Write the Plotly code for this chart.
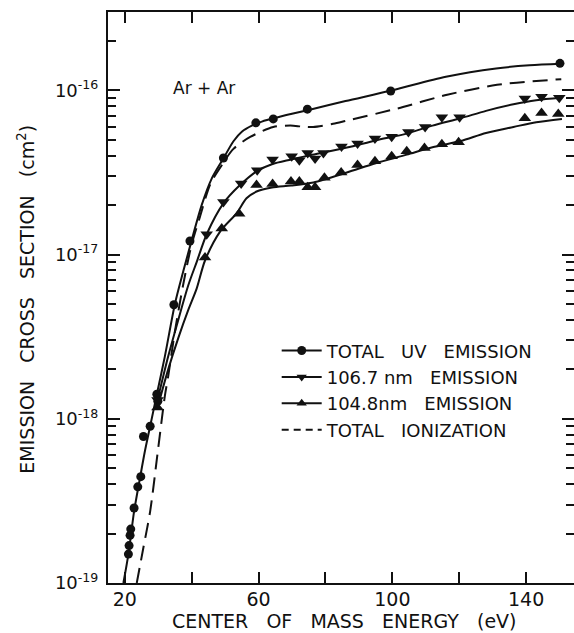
import plotly.graph_objects as go

# ---------------- data ----------------
# TOTAL UV EMISSION (circles)
uv_x = [21.1, 21.3, 21.6, 21.8, 22.8, 23.9, 24.8, 25.6, 27.6, 29.6, 29.9, 34.7,
        39.5, 49.5, 59.2, 64.4, 74.6, 99.5, 150.1]
uv_y = [1.5e-19, 1.69e-19, 1.95e-19, 2.13e-19, 2.86e-19, 3.85e-19, 4.44e-19,
        7.8e-19, 9.0e-19, 1.41e-18, 1.28e-18, 4.95e-18, 1.21e-17, 3.87e-17,
        6.34e-17, 6.7e-17, 7.68e-17, 9.9e-17, 1.46e-16]
uv_fit_x = [19.6, 21.1, 22.8, 24.6, 26.1, 27.6, 29.6, 32.0, 35.0, 37.5, 40.0,
            43.0, 46.0, 49.5, 52.5, 55.0, 58.0, 61.0, 65.0, 70.0, 75.0, 86.0,
            100.0, 116.0, 131.0, 141.0, 150.5]
uv_fit_y = [1.0e-19, 1.5e-19, 2.73e-19, 4.4e-19, 6.45e-19, 9.0e-19, 1.41e-18,
            2.4e-18, 5.0e-18, 7.9e-18, 1.22e-17, 2.0e-17, 2.9e-17, 3.85e-17,
            4.9e-17, 5.6e-17, 6.1e-17, 6.45e-17, 6.8e-17, 7.2e-17, 7.6e-17,
            8.6e-17, 1.0e-16, 1.21e-16, 1.36e-16, 1.42e-16, 1.45e-16]

# 106.7 nm EMISSION (down triangles)
d_x = [29.8, 44.5, 49.5, 54.8, 59.6, 64.2, 69.9, 72.2, 74.7, 76.9, 79.4, 84.8,
       89.6, 94.8, 99.8, 104.8, 109.8, 114.8, 120.1, 139.6, 144.6, 149.9]
d_y = [1.3e-18, 1.33e-17, 2.09e-17, 2.71e-17, 3.26e-17, 3.79e-17, 3.97e-17,
       3.75e-17, 4.15e-17, 3.84e-17, 4.15e-17, 4.55e-17, 4.75e-17, 5.09e-17,
       5.21e-17, 5.58e-17, 5.98e-17, 6.85e-17, 6.85e-17, 8.93e-17, 9.14e-17,
       9.0e-17]
d_fit_x = [29.8, 33.0, 36.0, 39.0, 41.5, 44.5, 49.5, 54.3, 59.6, 64.0, 69.7,
           76.0, 86.4, 95.0, 104.3, 112.0, 120.4, 128.0, 136.2, 143.0, 150.5]
d_fit_y = [1.3e-18, 2.4e-18, 4.0e-18, 6.5e-18, 9.0e-18, 1.33e-17, 2.05e-17,
           2.63e-17, 3.23e-17, 3.55e-17, 3.79e-17, 4.05e-17, 4.48e-17, 4.95e-17,
           5.45e-17, 6.1e-17, 6.76e-17, 7.5e-17, 8.22e-17, 8.7e-17, 9.0e-17]

# 104.8 nm EMISSION (up triangles)
u_x = [29.8, 44.0, 49.0, 54.2, 59.4, 64.2, 69.7, 72.2, 74.7, 76.9, 79.7, 84.7,
       89.6, 94.8, 99.8, 104.3, 109.6, 114.8, 119.8, 139.6, 144.6, 149.6]
u_y = [1.17e-18, 9.6e-18, 1.44e-17, 1.77e-17, 2.65e-17, 2.69e-17, 2.79e-17,
       2.79e-17, 2.57e-17, 2.57e-17, 2.94e-17, 3.16e-17, 3.51e-17, 3.7e-17,
       3.97e-17, 4.25e-17, 4.45e-17, 4.69e-17, 4.83e-17, 6.76e-17, 7.27e-17,
       7.17e-17]
u_fit_x = [29.8, 33.0, 36.0, 39.0, 41.5, 44.0, 48.6, 53.5, 56.4, 59.4, 64.0,
           69.7, 76.4, 86.4, 95.0, 104.3, 112.0, 120.4, 128.0, 136.2, 143.0,
           150.7]
u_fit_y = [1.17e-18, 2.0e-18, 3.1e-18, 4.6e-18, 6.2e-18, 9.2e-18, 1.39e-17,
           1.79e-17, 2.2e-17, 2.42e-17, 2.56e-17, 2.63e-17, 2.75e-17, 3.16e-17,
           3.6e-17, 4.06e-17, 4.5e-17, 4.91e-17, 5.5e-17, 5.98e-17, 6.4e-17,
           6.7e-17]

# TOTAL IONIZATION (dashed curve)
ion_x = [23.6, 25.6, 27.6, 30.0, 32.0, 33.0, 35.0, 37.5, 40.0, 42.5, 45.6,
         49.0, 52.5, 57.5, 64.4, 69.5, 73.0, 76.3, 82.3, 86.4, 101.5, 116.4,
         131.3, 150.5]
ion_y = [1.0e-19, 1.65e-19, 2.73e-19, 6.6e-19, 1.38e-18, 1.82e-18, 3.4e-18,
         6.6e-18, 1.15e-17, 1.7e-17, 2.69e-17, 3.5e-17, 4.4e-17, 5.2e-17,
         5.98e-17, 6.1e-17, 6.02e-17, 5.98e-17, 6.25e-17, 6.54e-17, 7.75e-17,
         9.4e-17, 1.08e-16, 1.17e-16]

x_tickvals = [20, 60, 100, 140]
x_ticktext = ["20", "60", "100", "140"]
x_minor = [40, 80, 120]
y_tickvals = [1e-19, 1e-18, 1e-17, 1e-16]
y_ticktext = ["10<sup>-19</sup>", "10<sup>-18</sup>", "10<sup>-17</sup>", "10<sup>-16</sup>"]
y_minor = [m * 10.0 ** k for k in range(-19, -15) for m in range(2, 10) if m * 10.0 ** k < 2.9e-16]

names = ["TOTAL   UV   EMISSION", "106.7 nm   EMISSION", "104.8nm   EMISSION", "TOTAL   IONIZATION"]

INK = "#111111"
FONT = "DejaVu Sans"

fig = go.Figure()
LW = 2

# fitted curves
for fx, fy, dash in [(uv_fit_x, uv_fit_y, "solid"), (d_fit_x, d_fit_y, "solid"),
                     (u_fit_x, u_fit_y, "solid"), (ion_x, ion_y, "15px,8px")]:
    fig.add_trace(go.Scatter(x=fx, y=fy, mode="lines", showlegend=False, hoverinfo="skip",
                             line=dict(color=INK, width=LW, dash=dash, shape="spline", smoothing=0.8)))

# data markers
fig.add_trace(go.Scatter(x=uv_x, y=uv_y, mode="markers", marker=dict(symbol="circle", size=9, color=INK), showlegend=False))
fig.add_trace(go.Scatter(x=d_x, y=d_y, mode="markers", marker=dict(symbol="triangle-down", size=11, color=INK), showlegend=False))
fig.add_trace(go.Scatter(x=u_x, y=u_y, mode="markers", marker=dict(symbol="triangle-up", size=11, color=INK), showlegend=False))

# legend entries
sym = ["circle", "triangle-down", "triangle-up", None]
for nm, s in zip(names, sym):
    if s:
        fig.add_trace(go.Scatter(x=[None], y=[None], mode="lines+markers", name=nm,
                                 line=dict(color=INK, width=LW), marker=dict(symbol=s, size=9, color=INK)))
    else:
        fig.add_trace(go.Scatter(x=[None], y=[None], mode="lines", name=nm, yaxis="y2",
                                 line=dict(color=INK, width=LW, dash="7px,5px")))

fig.add_annotation(x=0.205, y=0.867, xref="paper", yref="paper", text="Ar + Ar", showarrow=False,
                   font=dict(family=FONT, size=17, color=INK), xanchor="center", yanchor="middle")
# axis titles
fig.add_annotation(x=-0.175, y=0.497, xref="paper", yref="paper", textangle=-90,
                   text="EMISSION   CROSS   SECTION   (cm<sup>2</sup>)", showarrow=False,
                   font=dict(family=FONT, size=19, color=INK), xanchor="center", yanchor="middle")
fig.add_annotation(x=0.507, y=-0.0875, xref="paper", yref="paper",
                   text="CENTER   OF   MASS   ENERGY   (eV)", showarrow=False,
                   font=dict(family=FONT, size=19, color=INK), xanchor="center", yanchor="bottom",
                   borderpad=0)

fig.update_layout(
    width=574, height=633,
    margin=dict(l=108, r=0, t=12, b=50),
    paper_bgcolor="white", plot_bgcolor="white",
    font=dict(family=FONT, color=INK, size=18),
    legend=dict(x=0.362, y=0.439, xanchor="left", yanchor="top", bgcolor="rgba(0,0,0,0)",
                font=dict(family=FONT, size=18, color=INK), tracegroupgap=0, itemwidth=40),
    xaxis=dict(range=[15, 154.3], tickvals=x_tickvals, ticktext=x_ticktext, ticks="inside",
               ticklen=11, tickwidth=2, tickcolor=INK, showline=True, linewidth=2, linecolor=INK,
               mirror="ticks", showgrid=False, zeroline=False, ticklabelstandoff=-2,
               minor=dict(tickvals=x_minor, ticks="inside", ticklen=11, tickwidth=2, tickcolor=INK, showgrid=False),
               tickfont=dict(family=FONT, size=19, color=INK)),
    yaxis=dict(type="log", range=[-19, -15.523], tickvals=y_tickvals, ticktext=y_ticktext,
               ticks="inside", ticklen=12, tickwidth=2, tickcolor=INK, showline=True, linewidth=2,
               linecolor=INK, showgrid=False, zeroline=False, ticklabelstandoff=4,
               minor=dict(tickvals=y_minor, ticks="inside", ticklen=8, tickwidth=2, tickcolor=INK, showgrid=False),
               tickfont=dict(family=FONT, size=18, color=INK)),
    yaxis2=dict(type="log", range=[-19, -15.523], overlaying="y", side="right", anchor="x",
                tickvals=y_tickvals, ticks="inside", ticklen=12, tickwidth=2,
                tickcolor=INK, showline=False, showgrid=False, zeroline=False, showticklabels=False,
                minor=dict(tickvals=y_minor, ticks="inside", ticklen=8, tickwidth=2, tickcolor=INK, showgrid=False)),
)

fig.write_html("out.html")
